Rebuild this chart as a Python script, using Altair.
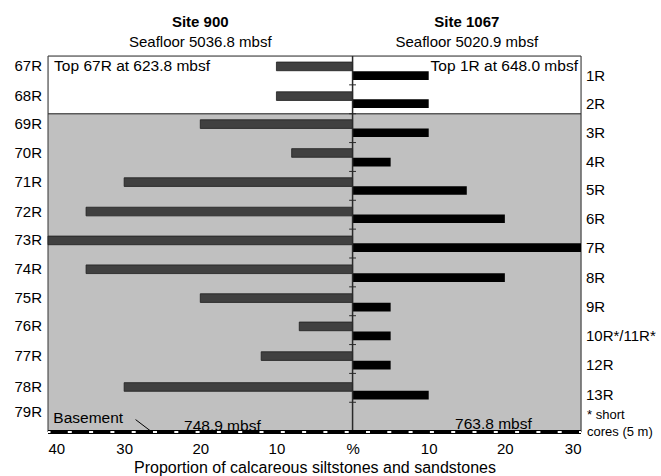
import altair as alt
import pandas as pd

# Site 900 cores (left half, plotted to negative x)
site900_cores = ["67R", "68R", "69R", "70R", "71R", "72R", "73R", "74R", "75R", "76R", "77R", "78R"]
site900_pct = [10, 10, 20, 8, 30, 35, 40, 35, 20, 7, 12, 30]
site900_row = [0.36, 1.39, 2.36, 3.36, 4.37, 5.39, 6.39, 7.39, 8.39, 9.37, 10.4, 11.47]

# Site 1067 cores (right half)
site1067_cores = ["1R", "2R", "3R", "4R", "5R", "6R", "7R", "8R", "9R", "10R*/11R*", "12R", "13R"]
site1067_pct = [10, 10, 10, 5, 15, 20, 30, 20, 5, 5, 5, 10]
site1067_row = [0.68, 1.65, 2.66, 3.68, 4.66, 5.64, 6.64, 7.68, 8.7, 9.7, 10.71, 11.75]

# Core 79R has no measured value, only a label
extra900_core = ["79R"]
extra900_row = [12.34]

x_ticks = [-40, -30, -20, -10, 0, 10, 20, 30]
X_MIN, X_MAX = -40, 30
Y_TOP, Y_BOT = 0.0, 13.03  # basement level in core rows
GRAY_TOP = 2.0              # top of the shaded interval
BAR_HALF = 0.15
FONT = "Liberation Sans"

W, H = 533, 376

df900 = pd.DataFrame({"core": site900_cores, "pct": site900_pct, "row": site900_row})
df900["x"] = 0
df900["x2"] = -df900["pct"]
df900["y"] = df900["row"] - BAR_HALF
df900["y2"] = df900["row"] + BAR_HALF

df1067 = pd.DataFrame({"core": site1067_cores, "pct": site1067_pct, "row": site1067_row})
df1067["x"] = 0
df1067["x2"] = df1067["pct"]
df1067["y"] = df1067["row"] - BAR_HALF
df1067["y2"] = df1067["row"] + BAR_HALF

left_labels = pd.DataFrame({"core": site900_cores + extra900_core,
                            "row": site900_row + extra900_row})

xs = alt.Scale(domain=[X_MIN, X_MAX], nice=False, zero=False)
ys = alt.Scale(domain=[Y_TOP, Y_BOT], nice=False, zero=False, reverse=True)

x_axis = alt.Axis(
    values=x_ticks,
    labelExpr="datum.value == 0 ? '%' : format(abs(datum.value), 'd')",
    domain=False, ticks=False, grid=False,
    labelFont=FONT, labelFontSize=15, labelColor="black", labelPadding=9,
    title="Proportion of calcareous siltstones and sandstones",
    titleFont=FONT, titleFontSize=16, titleFontWeight="normal", titleColor="black",
    titlePadding=3,
)

# Shaded interval
bg = pd.DataFrame({"x": [X_MIN], "x2": [X_MAX], "y": [GRAY_TOP], "y2": [Y_BOT]})
shade = alt.Chart(bg).mark_rect(color="#c0c0c0").encode(
    x=alt.X("x:Q", scale=xs, axis=x_axis), x2="x2:Q",
    y=alt.Y("y:Q", scale=ys, axis=None), y2="y2:Q",
)

sep = alt.Chart(bg).mark_rule(color="#5a5a5a", strokeWidth=1.5).encode(
    x="x:Q", x2="x2:Q", y="y:Q"
)

# Center (0 %) line with row ticks
center = pd.DataFrame({"x": [0], "y": [Y_TOP], "y2": [Y_BOT]})
center_line = alt.Chart(center).mark_rule(color="#2a2a2a", strokeWidth=1.5).encode(
    x="x:Q", y="y:Q", y2="y2:Q"
)
row_ticks = pd.DataFrame({"y": list(range(1, 13))})
row_ticks["x"] = -0.45
row_ticks["x2"] = 0.45
ticks = alt.Chart(row_ticks).mark_rule(color="#2a2a2a", strokeWidth=1).encode(
    x="x:Q", x2="x2:Q", y="y:Q"
)

bars900 = alt.Chart(df900).mark_rect(color="#404040", stroke="#1e1e1e", strokeWidth=0.8).encode(
    x="x:Q", x2="x2:Q", y="y:Q", y2="y2:Q"
)
bars1067 = alt.Chart(df1067).mark_rect(color="black").encode(
    x="x:Q", x2="x2:Q", y="y:Q", y2="y2:Q"
)

# Core labels outside the frame
lab900 = alt.Chart(left_labels).mark_text(
    align="right", baseline="middle", font=FONT, fontSize=15, color="black"
).encode(x=alt.value(-6), y="row:Q", text="core:N")
lab1067 = alt.Chart(df1067).mark_text(
    align="left", baseline="middle", font=FONT, fontSize=15, color="black"
).encode(x=alt.value(W + 5), y="row:Q", text="core:N")

# Annotations inside the frame
notes = pd.DataFrame({
    "text": ["Top 67R at 623.8 mbsf", "Top 1R at 648.0 mbsf", "Basement", "748.9 mbsf", "763.8 mbsf"],
    "x": [-39.2, 29.6, -39.3, -17.1, 18.5],
    "y": [0.34, 0.34, 12.54, 12.82, 12.76],
    "align": ["left", "right", "left", "center", "center"],
})
note_marks = []
for al in ["left", "right", "center"]:
    sub = notes[notes["align"] == al]
    note_marks.append(
        alt.Chart(sub).mark_text(align=al, baseline="middle", font=FONT, fontSize=15.5, color="black")
        .encode(x="x:Q", y="y:Q", text="text:N")
    )

leader = pd.DataFrame({"x": [-28.5], "x2": [-26.5], "y": [12.6], "y2": [13.0]})
leader_line = alt.Chart(leader).mark_rule(color="black", strokeWidth=1).encode(
    x="x:Q", x2="x2:Q", y="y:Q", y2="y2:Q"
)

# Footnote at right
foot = pd.DataFrame({"text": ["* short", "cores (5 m)"], "y": [12.44, 13.02]})
foot_marks = alt.Chart(foot).mark_text(
    align="left", baseline="middle", font=FONT, fontSize=13, color="black"
).encode(x=alt.value(W + 6), y="y:Q", text="text:N")

# Basement line: thick black band with white dashes
base = pd.DataFrame({"x": [X_MIN], "x2": [X_MAX], "y": [Y_BOT]})
base_black = alt.Chart(base).mark_rule(color="black", strokeWidth=4).encode(
    x="x:Q", x2="x2:Q", y="y:Q"
)
base_white = alt.Chart(base).mark_rule(
    color="white", strokeWidth=2, strokeDash=[4, 17.3], strokeDashOffset=1.5
).encode(x="x:Q", x2="x2:Q", y="y:Q")

# Frame
frame = alt.Chart(pd.DataFrame({"x": [X_MIN], "x2": [X_MAX], "y": [Y_TOP], "y2": [Y_BOT]})).mark_rect(
    filled=False, stroke="#333333", strokeWidth=1
).encode(x="x:Q", x2="x2:Q", y="y:Q", y2="y2:Q")

# Site headings
heads = pd.DataFrame({
    "x": [-20, 15, -20, 15],
    "text": ["Site 900", "Site 1067", "Seafloor 5036.8 mbsf", "Seafloor 5020.9 mbsf"],
    "bold": [True, True, False, False],
})
head_bold = alt.Chart(heads[heads["bold"]]).mark_text(
    align="center", baseline="middle", font=FONT, fontSize=15, fontWeight="bold", color="black"
).encode(x="x:Q", y=alt.value(-34), text="text:N")
head_reg = alt.Chart(heads[~heads["bold"]]).mark_text(
    align="center", baseline="middle", font=FONT, fontSize=15, color="black"
).encode(x="x:Q", y=alt.value(-14.5), text="text:N")

chart = alt.layer(
    shade, sep, frame, bars900, bars1067, center_line, ticks,
    *note_marks, leader_line, base_black, base_white,
    lab900, lab1067, foot_marks, head_bold, head_reg,
).properties(
    width=W, height=H,
    autosize=alt.AutoSizeParams(type="none"),
    padding={"left": 48, "top": 56, "right": 661 - 48 - W, "bottom": 476 - 56 - H},
).configure_view(stroke=None).configure(background="white")

chart.save("out.html", embed_options={"renderer": "svg", "actions": False})
